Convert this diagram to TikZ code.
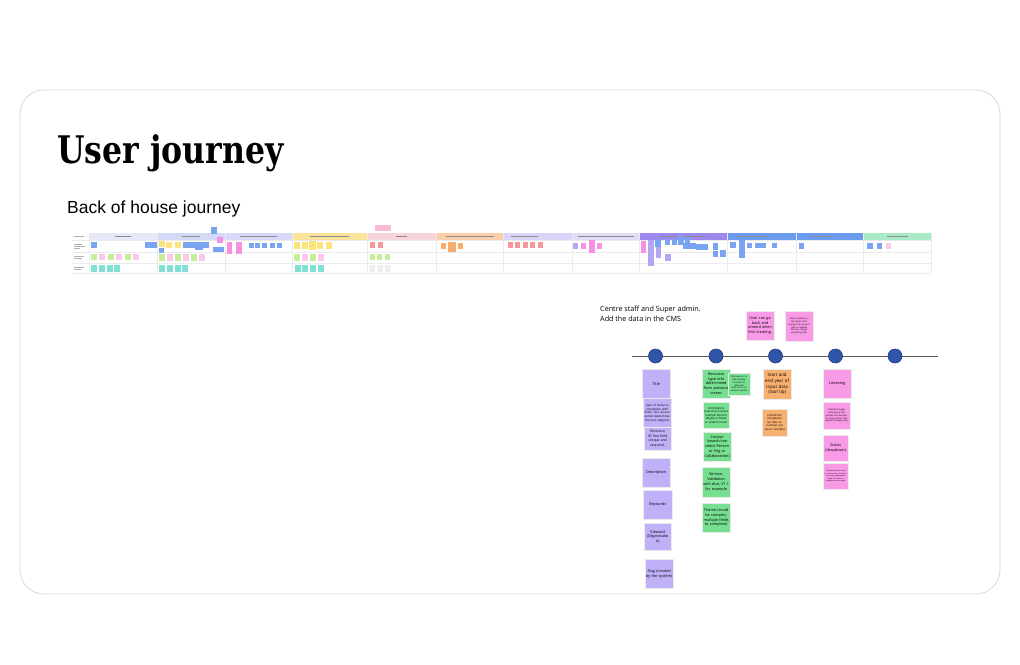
\documentclass[tikz,border=0pt]{standalone}
\usepackage{fontspec}
\setmainfont{Open Sans}
\newfontfamily\titlefont{DejaVu Serif}
\newfontfamily\subfont{Liberation Sans}
\usetikzlibrary{shadows}
\definecolor{cardline}{HTML}{D9D9D9}
\definecolor{purp}{HTML}{C0B0F8}
\definecolor{grn}{HTML}{76DF90}
\definecolor{org}{HTML}{F8B070}
\definecolor{pnk}{HTML}{F89AE6}
\definecolor{dotblue}{HTML}{2F56A8}
\definecolor{dotedge}{HTML}{1E3A7A}
\definecolor{hdA}{HTML}{E6E8F8}
\definecolor{hdB}{HTML}{D3D9F7}
\definecolor{hdC}{HTML}{D6DAF8}
\definecolor{hdY}{HTML}{FAE49C}
\definecolor{hdP}{HTML}{F8D5D8}
\definecolor{hdO}{HTML}{F9CFAA}
\definecolor{hdL}{HTML}{DAD4F8}
\definecolor{hdM}{HTML}{E1DCF8}
\definecolor{hdV}{HTML}{9C88EE}
\definecolor{hdBl}{HTML}{6A9BEF}
\definecolor{hdG}{HTML}{A9EBC6}
\definecolor{sB}{HTML}{7BA4F0}
\definecolor{sG}{HTML}{C6EE98}
\definecolor{sP}{HTML}{FBC8EE}
\definecolor{sT}{HTML}{7FE0D6}
\definecolor{sY}{HTML}{FBE47C}
\definecolor{sR}{HTML}{F6969C}
\definecolor{sO}{HTML}{F8AC6C}
\definecolor{sV}{HTML}{B5A5F5}
\definecolor{sGr}{HTML}{EEEEF0}
\definecolor{sM}{HTML}{F591E3}
\newcommand\nohy{\hyphenpenalty=10000\exhyphenpenalty=10000\relax}
\tikzset{
  notebox/.style={draw=black!8, line width=0.3pt, inner sep=0.5pt, align=center,
    anchor=north west, font=\nohy\fontsize{3.8}{4.8}\selectfont,
    drop shadow={shadow xshift=0.4pt, shadow yshift=-0.5pt, opacity=0.15}},
  tinytext/.style={font=\nohy\fontsize{2.2}{2.8}\selectfont},
  dot/.style={circle, fill=dotblue, draw=dotedge, line width=0.6pt, minimum size=14pt, inner sep=0pt},
  gridline/.style={draw=black!8, line width=0.4pt}
}
\begin{document}
\begin{tikzpicture}[x=1pt,y=-1pt]
\useasboundingbox (0,0) rectangle (1020,664);
\fill[white] (0,0) rectangle (1020,664);
% card
\draw[cardline, line width=0.8pt, rounded corners=24pt] (20,90) rectangle (1000,594);
% titles
\node[anchor=base west, inner sep=0pt, font=\titlefont\bfseries\fontsize{38}{40}\selectfont] (title) at (57,163) {\scalebox{0.83}[1]{User journey}};
\node[anchor=base west, inner sep=0pt, font=\subfont\fontsize{17.5}{20}\selectfont] (sub) at (67,213) {Back of house journey};

% ===== strip overview =====
\fill[hdA] (89,233) rectangle (157,240);
\fill[hdB] (157,233) rectangle (225,240);
\fill[hdC] (225,233) rectangle (292,240);
\fill[hdY] (292,233) rectangle (367,240);
\fill[hdP] (367,233) rectangle (436,240);
\fill[hdO] (436,233) rectangle (503,240);
\fill[hdL] (503,233) rectangle (572,240);
\fill[hdM] (572,233) rectangle (639,240);
\fill[hdV] (639,233) rectangle (727,240);
\fill[hdBl] (727,233) rectangle (796,240);
\fill[hdBl] (796,233) rectangle (863,240);
\fill[hdG] (863,233) rectangle (931,240);
\foreach \a/\b in {115/131,182/200,240/277,310/349,396/407,446/494,511/538,578/634,660/706,737/767,811/834,887/908}
  \draw[black!45, line width=0.3pt] (\a,236.5) -- (\b,236.5);
\foreach \yy in {240,252,263,273} \draw[gridline] (72,\yy) -- (931,\yy);
\foreach \xx in {89,157,225,292,367,436,503,572,639,727,796,863,931} \draw[gridline] (\xx,233) -- (\xx,273);
\foreach \yy/\w in {236/84,244/82,246/85,248/80,256/84,258/82,267/84,269/81}
  \draw[black!30, line width=0.3pt] (74,\yy) -- (\w,\yy);
% section 1
\fill[sB] (91,242) rectangle (97,248);
\fill[sB] (145,242) rectangle (157,248);
\foreach \xx/\c in {91/sG,99/sP,108/sG,116/sP,125/sG,133/sP} \fill[\c] (\xx,254) rectangle (\xx+5.5,260);
\foreach \xx in {91,99,107,114} \fill[sT] (\xx,265) rectangle (\xx+6,272);
% section 2
\fill[sB] (211,227) rectangle (217,234);
\fill[sY] (159,241) rectangle (165,247);
\fill[sB] (159,248) rectangle (164,253);
\fill[sY] (166,242) rectangle (172,248);
\fill[sY] (175,242) rectangle (181,248);
\fill[sB] (183,242) rectangle (189,248);
\fill[sB] (189,242) rectangle (195,248);
\fill[sB] (195,242) rectangle (203,250);
\fill[sB] (203,242) rectangle (209,248);
\fill[sM] (217,237) rectangle (223,243);
\fill[sB] (213,247) rectangle (219,252);
\fill[sB] (219,247) rectangle (224,252);
\foreach \xx/\c in {159/sG,167/sP,175/sG,183/sP,191/sG,199/sP} \fill[\c] (\xx,254) rectangle (\xx+5.5,261);
\foreach \xx in {159,167,175,182} \fill[sT] (\xx,265) rectangle (\xx+6,272);
% section 3
\fill[sM] (227,242) rectangle (232,254);
\fill[sM] (236,242) rectangle (242,254);
\foreach \xx in {249,255,262,270,277} \fill[sB] (\xx,243) rectangle (\xx+4.5,248);
% section yellow
\fill[sY] (294,242) rectangle (300,249);
\fill[sY] (302,242) rectangle (308,249);
\fill[sY] (309,241) rectangle (316,250);
\fill[sY] (317,242) rectangle (323,249);
\fill[sY] (326,242) rectangle (332,249);
\foreach \xx/\c in {294/sG,302/sP,310/sG,318/sP} \fill[\c] (\xx,254) rectangle (\xx+6,261);
\foreach \xx in {295,302,310,318} \fill[sT] (\xx,265) rectangle (\xx+6,272);
% section pink
\fill[sP!70!sR] (375,225) rectangle (391,231);
\fill[sR] (370,242) rectangle (375,248);
\fill[sR] (378,242) rectangle (383,248);
\foreach \xx in {370,377,385} \fill[sG] (\xx,254) rectangle (\xx+5,260);
\foreach \xx in {370,378,385} \fill[sGr] (\xx,265) rectangle (\xx+5,272);
% section orange
\fill[sO] (441,243) rectangle (446,249);
\fill[sO] (448,242) rectangle (456,252);
\fill[sO] (458,243) rectangle (463,249);
% section light purple
\foreach \xx in {508,515,523,530,538} \fill[sR] (\xx,242) rectangle (\xx+5,248);
% section lavender
\fill[sV] (573,243) rectangle (578,249);
\fill[sM] (581,243) rectangle (586,249);
\fill[sM] (589,240) rectangle (595,253);
\fill[sM] (597,243) rectangle (602,249);
% section purple
\fill[sM] (641,241) rectangle (646,253);
\fill[sV] (648,240) rectangle (654,266);
\fill[sV] (656,240) rectangle (661,258);
\fill[sB] (655,240) rectangle (661,247);
\fill[sV] (665,254) rectangle (671,261);
\fill[sB] (665,239) rectangle (670,245);
\fill[sB] (672,239) rectangle (677,245);
\fill[sB] (678,236) rectangle (684,245);
\fill[sB] (685,237) rectangle (690,243);
\fill[sB] (683,243) rectangle (696,249);
\fill[sB] (696,244) rectangle (703,250);
\fill[sB] (703,244) rectangle (708,250);
\fill[sB] (713,243) rectangle (718,250);
\fill[sB] (713,251) rectangle (718,257);
\fill[sB] (720,250) rectangle (726,257);
% section blue
\fill[sB] (730,242) rectangle (736,248);
\fill[sB] (739,240) rectangle (745,258);
\fill[sB] (747,243) rectangle (752,248);
\fill[sB] (755,243) rectangle (766,248);
\fill[sB] (772,243) rectangle (777,248);
% section blue 2
\fill[sB] (799,243) rectangle (804,249);
% section green
\fill[sB] (867,243) rectangle (873,249);
\fill[sB] (877,243) rectangle (882,249);
\fill[sP] (886,243) rectangle (891,249);

% ===== timeline =====
\node[anchor=north west, inner sep=0pt, align=left, font=\fontsize{7.2}{9.6}\selectfont] (lead) at (600,306)
  {Centre staff and Super admin.\\Add the data in the CMS};
\coordinate (tlA) at (632,356);
\coordinate (tlB) at (938,356);
\draw[black!65, line width=0.9pt] (tlA) -- (tlB);
\node[dot] (d1) at (655.5,356) {};
\node[dot] (d2) at (716,356) {};
\node[dot] (d3) at (775.5,356) {};
\node[dot] (d4) at (835.5,356) {};
\node[dot] (d5) at (895,356) {};

% above notes
\node[notebox, fill=pnk, minimum width=28pt, minimum height=29pt, text width=27pt] (a1) at (746,311)
  {User can go back and amend when first creating.};
\node[notebox, fill=pnk, minimum width=28pt, minimum height=30pt, text width=24pt, tinytext] (a2) at (785,311)
  {When updating in the future Can't change the resource type or steward but can change everything else.};

% column 1
\node[notebox, fill=purp, minimum width=28pt, minimum height=29pt, text width=27pt] (c1) at (642,369) {Title};
\node[notebox, fill=purp, minimum width=28pt, minimum height=30pt, text width=26pt, font=\nohy\fontsize{2.9}{3.7}\selectfont] (c2) at (643,398)
  {Type of resource (dropdown with fields. The chosen option determines the next steppes)};
\node[notebox, fill=purp, minimum width=27pt, minimum height=23pt, text width=25pt, font=\nohy\fontsize{3.4}{4.4}\selectfont] (c3) at (644,427)
  {Resource ID Text field unique and required.};
\node[notebox, fill=purp, minimum width=28pt, minimum height=29pt, text width=27pt] (c4) at (642,458) {Description};
\node[notebox, fill=purp, minimum width=29pt, minimum height=29pt, text width=28pt] (c5) at (643,490) {Keywords};
\node[notebox, fill=purp, minimum width=27pt, minimum height=27pt, text width=26pt] (c6) at (644,523) {Steward (Organisatio n)};
\node[notebox, fill=purp, minimum width=28pt, minimum height=29pt, text width=27pt] (c7) at (645,559) {Slug (created by the system)};

% column 2
\node[notebox, fill=grn, minimum width=28pt, minimum height=29pt, text width=27pt] (g1) at (702,369)
  {Resource type info determined from previous screen};
\node[notebox, fill=grn, minimum width=22pt, minimum height=22pt, text width=20pt, tinytext] (g1b) at (728,373)
  {Will need a I to add multiple formats of data and each link to an external system.};
\node[notebox, fill=grn, minimum width=26pt, minimum height=26pt, text width=25pt, font=\nohy\fontsize{2.8}{3.6}\selectfont] (g2) at (703,402)
  {Contributors (search/can select multiple Person) Maybe a modal or extend screen};
\node[notebox, fill=grn, minimum width=28pt, minimum height=29pt, text width=27pt] (g3) at (703,432)
  {Creator (search/can select Person or Org or Collaboration)};
\node[notebox, fill=grn, minimum width=28pt, minimum height=30pt, text width=27pt] (g4) at (702,467)
  {Version, Validation with dtat, V1.1 for example};
\node[notebox, fill=grn, minimum width=28pt, minimum height=29pt, text width=27pt] (g5) at (702,503)
  {Theme (could be complex, multiple fields to complete)};

% column 3
\node[notebox, fill=org, minimum width=28pt, minimum height=30pt, text width=27pt, font=\nohy\fontsize{4.4}{5.6}\selectfont] (o1) at (763,369)
  {Start and end year of input data (tool tip)};
\node[notebox, fill=org, minimum width=25pt, minimum height=27pt, text width=23pt, font=\nohy\fontsize{2.8}{3.6}\selectfont] (o2) at (762,409)
  {Jurisdiction (dropdown by state or national can select multiple)};

% column 4
\node[notebox, fill=pnk, minimum width=28pt, minimum height=29pt, text width=27pt] (p1) at (823,369) {Licensing};
\node[notebox, fill=pnk, minimum width=27pt, minimum height=27pt, text width=24pt, tinytext] (p2) at (823,402)
  {Publisher toggle (selecting a ocal provide the identifier as some system that appear through only)};
\node[notebox, fill=pnk, minimum width=25pt, minimum height=26pt, text width=24pt] (p3) at (823,435) {Status (dropdown)};
\node[notebox, fill=pnk, minimum width=25pt, minimum height=26pt, text width=23pt, font=\nohy\fontsize{1.8}{2.4}\selectfont] (p4) at (823,463)
  {Should option to show or remove from the front end; only appropriate when the record is complete and reviewed.};
\end{tikzpicture}
\end{document}
